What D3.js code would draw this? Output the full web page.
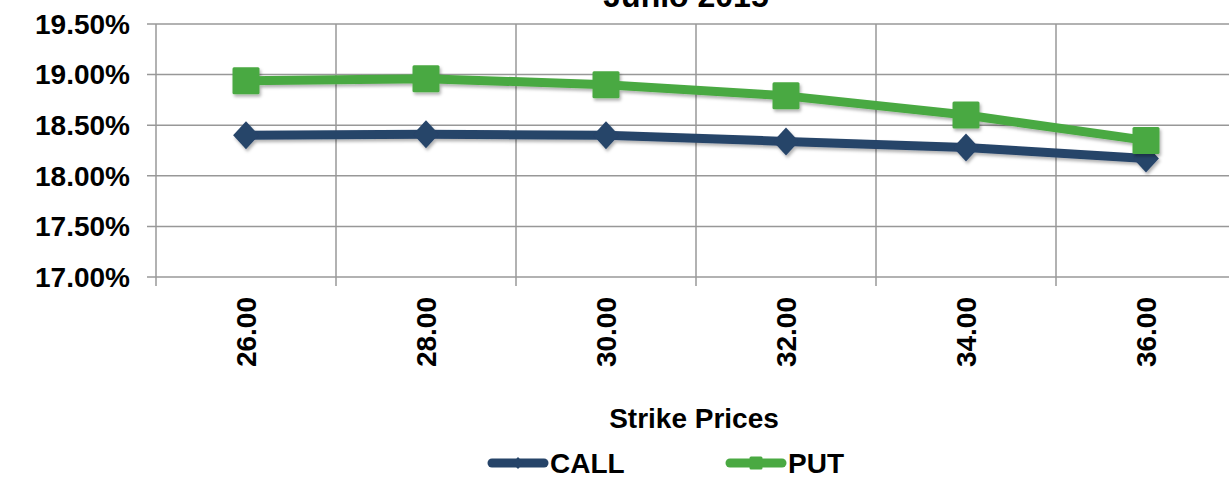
<!DOCTYPE html>
<html><head><meta charset="utf-8">
<script src="https://cdn.jsdelivr.net/npm/d3@7"></script>
<style>
html,body{margin:0;padding:0;background:#fff;overflow:hidden}
text{font-family:"Liberation Sans",Arial,sans-serif;font-weight:bold;fill:#000}
</style></head>
<body>
<svg id="c" width="1229" height="479"></svg>
<script>
const categories = ["26.00","28.00","30.00","32.00","34.00","36.00"];
const callValues = [18.40, 18.41, 18.40, 18.34, 18.28, 18.17];
const putValues  = [18.94, 18.96, 18.90, 18.79, 18.60, 18.35];
const yTicks = [17.00, 17.50, 18.00, 18.50, 19.00, 19.50];
const seriesNames = ["CALL","PUT"];
const colors = {CALL:"#264469", PUT:"#4aa942"};
const chartTitle = "Junio 2015";
const xTitle = "Strike Prices";

(function(){
const svg = d3.select("#c");
const pLeft = 156, pRight = 1236, pTop = 24, pBottom = 277;
const x = d3.scaleBand().domain(categories).range([pLeft, pRight]);
const y = d3.scaleLinear().domain([17, 19.5]).range([pBottom, pTop]);

const defs = svg.append("defs");
const f = defs.append("filter").attr("id","sh").attr("x","-20%").attr("y","-20%").attr("width","140%").attr("height","160%");
f.append("feDropShadow").attr("dx",1.5).attr("dy",2.5).attr("stdDeviation",1.8).attr("flood-color","#000").attr("flood-opacity",0.3);

svg.append("g").selectAll("line").data(yTicks).join("line")
  .attr("x1", pLeft - 9).attr("x2", 1229)
  .attr("y1", d => y(d)).attr("y2", d => y(d))
  .attr("stroke", "#989898").attr("stroke-width", 1.5);
const bounds = categories.map(c => x(c)).concat([x(categories[categories.length-1]) + x.step()]);
svg.append("g").selectAll("line").data(bounds).join("line")
  .attr("x1", d => d).attr("x2", d => d)
  .attr("y1", pTop).attr("y2", pBottom + 9)
  .attr("stroke", "#989898").attr("stroke-width", 1.5);

svg.append("g").selectAll("text").data(yTicks).join("text")
  .attr("x", 130).attr("y", d => y(d)).attr("dy", "0.35em")
  .attr("text-anchor", "end").attr("font-size", 28)
  .text(d => d.toFixed(2) + "%");

svg.append("g").selectAll("text").data(categories).join("text")
  .attr("transform", d => `translate(${x(d) + x.bandwidth()/2 + 10},297) rotate(-90)`)
  .attr("text-anchor", "end").attr("font-size", 28)
  .text(d => d);

svg.append("text").attr("x", 686).attr("y", 7).attr("text-anchor","middle").attr("font-size", 32).text(chartTitle);
svg.append("text").attr("x", 694).attr("y", 428).attr("text-anchor","middle").attr("font-size", 28).text(xTitle);

const cx = d => x(d) + x.bandwidth()/2;
const line = d3.line().x(d => cx(d[0])).y(d => y(d[1]));
const data = {CALL: categories.map((c,i)=>[c, callValues[i]]), PUT: categories.map((c,i)=>[c, putValues[i]])};

function marker(g, name, px, py, big) {
  if (name === "CALL") {
    const r = big ? 14 : 6;
    g.append("path").attr("d", `M${px},${py-r}L${px+r*0.92},${py}L${px},${py+r}L${px-r*0.92},${py}Z`).attr("fill", colors.CALL);
  } else {
    const s = big ? 27 : 13;
    g.append("rect").attr("x", px - s/2).attr("y", py - s/2).attr("width", s).attr("height", s).attr("rx", 1.5).attr("fill", colors.PUT);
  }
}

seriesNames.forEach(name => {
  const g = svg.append("g").attr("filter","url(#sh)");
  g.append("path").datum(data[name]).attr("d", line)
    .attr("fill","none").attr("stroke", colors[name]).attr("stroke-width", 9).attr("stroke-linejoin","round");
  data[name].forEach(d => marker(g, name, cx(d[0]), y(d[1]), true));
});

const legendPos = {CALL: 488, PUT: 726};
seriesNames.forEach(name => {
  const lx = legendPos[name], ly = 463;
  const g = svg.append("g");
  g.append("line").attr("x1", lx + 4).attr("x2", lx + 56).attr("y1", ly).attr("y2", ly)
    .attr("stroke", colors[name]).attr("stroke-width", 9).attr("stroke-linecap","round");
  marker(g, name, lx + 30, ly, false);
  g.append("text").attr("x", lx + 62).attr("y", 473).attr("font-size", 28).text(name);
});
})();
</script>
</body></html>
